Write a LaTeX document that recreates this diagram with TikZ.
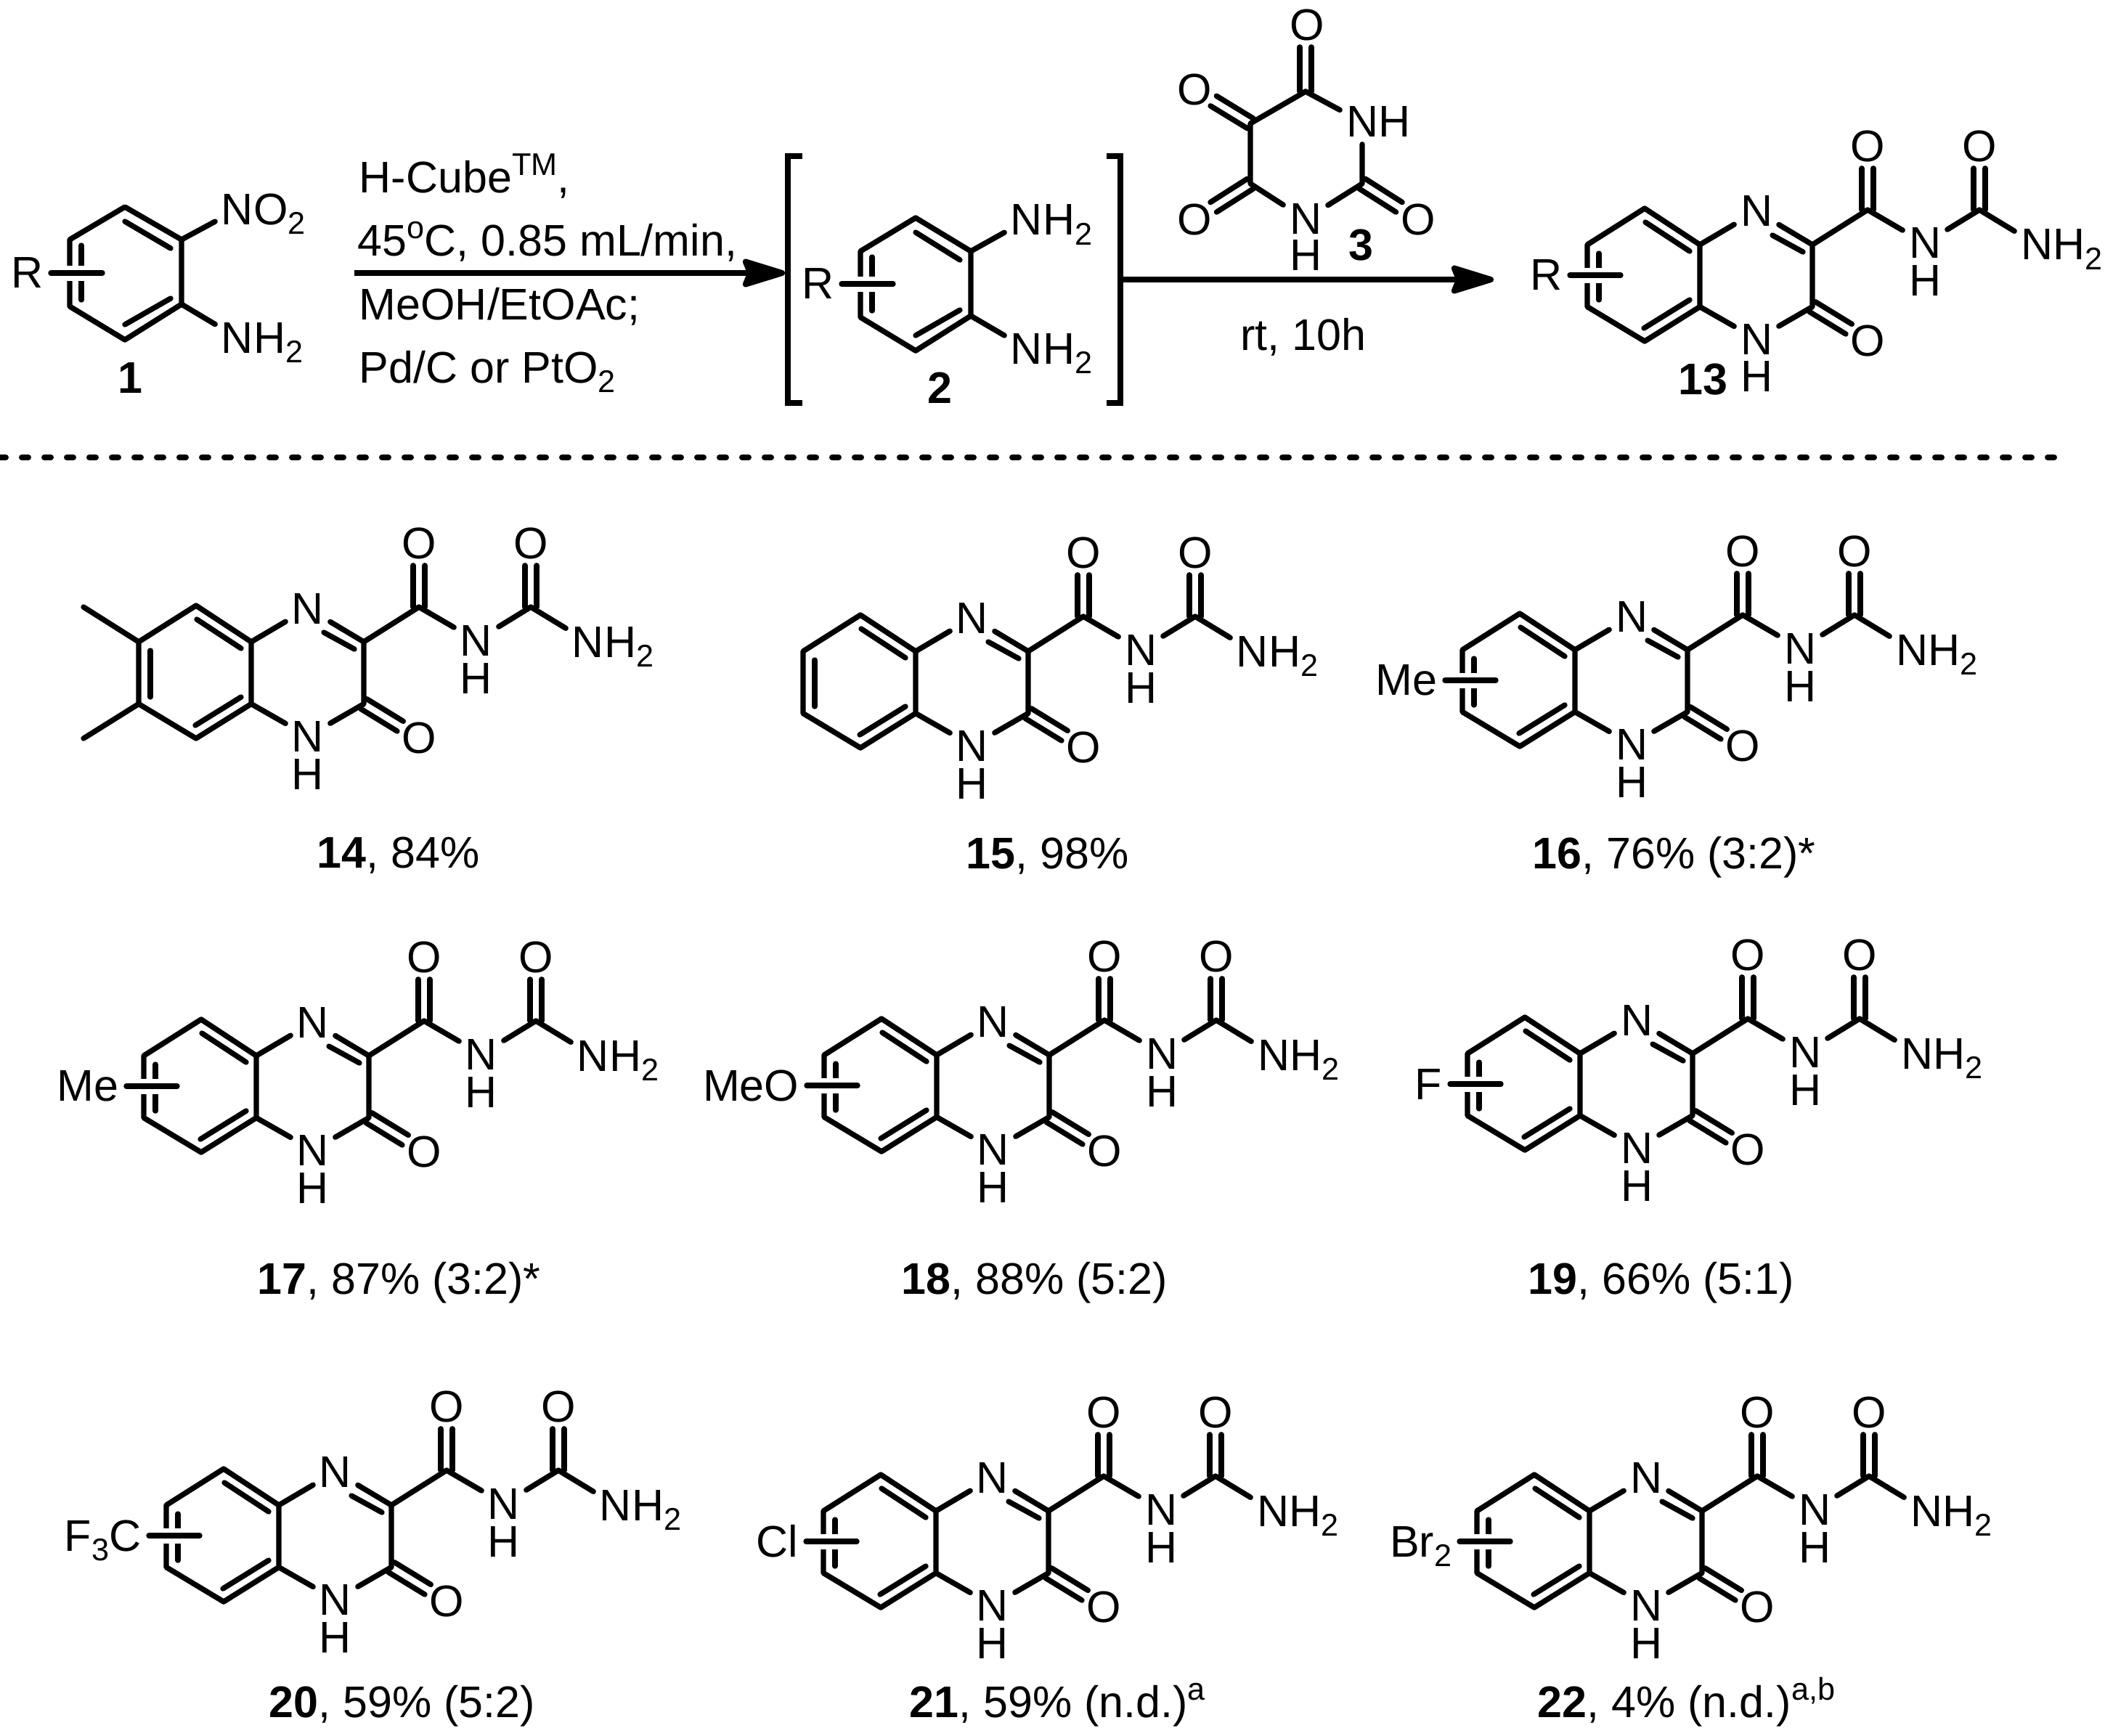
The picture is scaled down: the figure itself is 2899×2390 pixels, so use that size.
\documentclass[tikz,border=0pt]{standalone}
\usepackage{fontspec}
\setmainfont{Liberation Sans}
\usetikzlibrary{arrows.meta,calc}
\newcommand{\sbs}[1]{\smash{\raisebox{-3.3pt}{\fontsize{10.8}{12}\selectfont #1}}}
\newcommand{\sps}[1]{\smash{\raisebox{6pt}{\fontsize{10.8}{12}\selectfont #1}}}
\tikzset{
  x=0.25pt,y=-0.25pt,
  every node/.style={font=\fontsize{15.25}{18}\selectfont},
  bond/.style={line width=1.85pt,line cap=round,line join=round},
  atom/.style={inner sep=0pt,minimum width=15pt,minimum height=15pt},
  lab/.style={inner sep=2.5pt},
  txt/.style={inner sep=0pt,anchor=base west},
  halo/.style={white,line width=5.25pt},
  rxn/.style={line width=2pt,-{Stealth[length=17.5pt,width=10.5pt,inset=2pt,round]}},
  brk/.style={line width=2pt,line cap=butt,line join=miter},
}
% quinoxaline urea skeleton, origin = the top ring N
\newcommand{\qx}[3]{%
\begin{scope}[shift={(#2,#3)},name prefix=#1-]
  \coordinate (FT) at (-78,46);
  \coordinate (FB) at (-78,131.5);
  \coordinate (RT) at (-154,-4);
  \coordinate (RB) at (-154,179);
  \coordinate (LT) at (-233,46);
  \coordinate (LB) at (-233,131.5);
  \coordinate (C2) at (77,46);
  \coordinate (C3) at (77,131.5);
  \coordinate (CO) at (153,-2);
  \coordinate (CU) at (307,-2);
  \node[atom] (N1) at (0,0) {N};
  \node[atom] (N4) at (0,176) {N};
  \node[atom] (H4) at (0,228) {H};
  \node[atom] (O3) at (153,178) {O};
  \node[atom] (OA) at (153,-90) {O};
  \node[atom] (NH) at (232,44) {N};
  \node[atom] (HH) at (232,96) {H};
  \node[atom] (OB) at (307,-90) {O};
  \node[atom] (NT) at (386,46) {N\smash{\rlap{H\sbs{2}}}};
  \draw[bond] (FT)--(RT)--(LT)--(LB)--(RB)--(FB)--cycle;
  \draw[bond] (-153,15)--(-92,55);
  \draw[bond] (-92,122)--(-155,161);
  \draw[bond] (-217,58)--(-217,122);
  \draw[bond] (FT)--(N1);
  \draw[bond] (FB)--(N4);
  \draw[bond] (C2)--(N1);
  \draw[bond] (22,33)--(64,56);
  \draw[bond] (C2)--(C3)--(N4);
  \draw[bond] ($(C3)!2pt!90:(O3)$)--($(C3)!.66!(O3)!2pt!90:(O3)$);
  \draw[bond] ($(C3)!-2pt!90:(O3)$)--($(C3)!.66!(O3)!-2pt!90:(O3)$);
  \draw[bond] (C2)--(CO)--(NH);
  \draw[bond] (NH)--(CU)--(NT);
  \draw[bond] ([xshift=-2pt]CO)--([xshift=-2pt]OA.south);
  \draw[bond] ([xshift=2pt]CO)--([xshift=2pt]OA.south);
  \draw[bond] ([xshift=-2pt]CU)--([xshift=-2pt]OB.south);
  \draw[bond] ([xshift=2pt]CU)--([xshift=2pt]OB.south);
\end{scope}}
% substituent crossing the ring
\newcommand{\qxsub}[4]{%
\begin{scope}[shift={(#2,#3)},name prefix=#1-]
  \coordinate (barend) at (-187,88);
  \node[lab,anchor=east] (sub) at (-257,88) {#4};
  \coordinate (hs) at (-248,88);
  \coordinate (he) at (-202,88);
  \draw[halo] (hs)--(he);
  \draw[bond] (sub.east)--(barend);
\end{scope}}
\begin{document}
\begin{tikzpicture}
\useasboundingbox (0,0) rectangle (2899,2390);

% ---------- compound 1
\coordinate (a1) at (172,285); \coordinate (a2) at (250,330); \coordinate (a3) at (250,419);
\coordinate (a4) at (172,468); \coordinate (a5) at (96,422); \coordinate (a6) at (96,330);
\draw[bond] (a1)--(a2)--(a3)--(a4)--(a5)--(a6)--cycle;
\draw[bond] (172,305)--(235,342);
\draw[bond] (235,411)--(172,447);
\draw[bond] (112,338)--(112,413);
\node[atom] (no) at (327,288.5) {N\smash{\rlap{O\sbs{2}}}};
\node[atom] (nh) at (327,465) {N\smash{\rlap{H\sbs{2}}}};
\draw[bond] (a2)--(no);
\draw[bond] (a3)--(nh);
\node[lab,anchor=east] (r1) at (70,376) {R};
\coordinate (r1e) at (141,376);
\coordinate (r1a) at (80,376); \coordinate (r1b) at (128,376);
\draw[halo] (r1a)--(r1b);
\draw[bond] (r1.east)--(r1e);
\node[inner sep=0pt] (l1) at (179,521) {\textbf{1}};

% ---------- arrow 1 and conditions
\coordinate (ar1s) at (488,376); \coordinate (ar1e) at (1081,376);
\draw[rxn] (ar1s)--(ar1e);
\node[txt] (c1) at (494,265) {H-Cube\sps{TM},};
\node[txt] (c2) at (492,352) {45\sps{o}C, 0.85 mL/min,};
\node[txt] (c3) at (494,440) {MeOH/EtOAc;};
\node[txt] (c4) at (494,527) {Pd/C or PtO\sbs{2}};

% ---------- brackets
\coordinate (bl1) at (1105,215); \coordinate (bl2) at (1085,215); \coordinate (bl3) at (1085,555); \coordinate (bl4) at (1105,555);
\draw[brk] (bl1)--(bl2)--(bl3)--(bl4);
\coordinate (br1) at (1524,215); \coordinate (br2) at (1543,215); \coordinate (br3) at (1543,555); \coordinate (br4) at (1524,555);
\draw[brk] (br1)--(br2)--(br3)--(br4);

% ---------- compound 2
\coordinate (b1) at (1261,300); \coordinate (b2) at (1337,346); \coordinate (b3) at (1337,435);
\coordinate (b4) at (1261,483); \coordinate (b5) at (1185,437); \coordinate (b6) at (1185,346);
\draw[bond] (b1)--(b2)--(b3)--(b4)--(b5)--(b6)--cycle;
\draw[bond] (1261,320)--(1322,358);
\draw[bond] (1322,427)--(1261,462);
\draw[bond] (1201,354)--(1201,428);
\node[atom] (nb1) at (1414,303) {N\smash{\rlap{H\sbs{2}}}};
\node[atom] (nb2) at (1414,480) {N\smash{\rlap{H\sbs{2}}}};
\draw[bond] (b2)--(nb1);
\draw[bond] (b3)--(nb2);
\node[lab,anchor=east] (r2) at (1159,391) {R};
\coordinate (r2e) at (1230,391);
\coordinate (r2a) at (1168,391); \coordinate (r2b) at (1216,391);
\draw[halo] (r2a)--(r2b);
\draw[bond] (r2.east)--(r2e);
\node[inner sep=0pt] (l2) at (1294,534) {\textbf{2}};

% ---------- compound 3
\coordinate (t1) at (1798,126); \coordinate (t2) at (1722,170); \coordinate (t3) at (1722,253);
\coordinate (t5) at (1876,253);
\node[atom] (tO1) at (1800,34) {O};
\node[atom] (tO2) at (1645,123) {O};
\node[atom] (tO3) at (1645,302) {O};
\node[atom] (tO4) at (1953,302) {O};
\node[atom] (tN1) at (1876,168) {N\smash{\rlap{H}}};
\node[atom] (tN2) at (1798,302) {N};
\node[atom] (tH) at (1798,352) {H};
\node[inner sep=0pt] (l3) at (1874,338) {\textbf{3}};
\draw[bond] (t1)--(tN1);
\draw[bond] (t1)--(t2)--(t3)--(tN2)--(t5)--(tN1);
\draw[bond] ([xshift=-2pt]t1)--([xshift=-2pt]tO1.south-|t1);
\draw[bond] ([xshift=2pt]t1)--([xshift=2pt]tO1.south-|t1);
\draw[bond] ($(t2)!2pt!90:(tO2)$)--($(t2)!.66!(tO2)!2pt!90:(tO2)$);
\draw[bond] ($(t2)!-2pt!90:(tO2)$)--($(t2)!.66!(tO2)!-2pt!90:(tO2)$);
\draw[bond] ($(t3)!2pt!90:(tO3)$)--($(t3)!.66!(tO3)!2pt!90:(tO3)$);
\draw[bond] ($(t3)!-2pt!90:(tO3)$)--($(t3)!.66!(tO3)!-2pt!90:(tO3)$);
\draw[bond] ($(t5)!2pt!90:(tO4)$)--($(t5)!.66!(tO4)!2pt!90:(tO4)$);
\draw[bond] ($(t5)!-2pt!90:(tO4)$)--($(t5)!.66!(tO4)!-2pt!90:(tO4)$);

% ---------- arrow 2
\coordinate (ar2e) at (2057,385);
\draw[rxn] (br2|-ar2e)--(ar2e);
\node[inner sep=0pt] (c5) at (1795,464) {rt, 10h};

% ---------- compound 13
\qx{m13}{2419}{291}
\qxsub{m13}{2419}{291}{R}
\node[txt] (l13) at (2311,543) {\textbf{13}};

% ---------- dashed separator
\coordinate (d1) at (-1,630); \coordinate (d2) at (2845,630);
\draw[line width=2pt,line cap=round,dash pattern=on 2.25pt off 5.5pt] (d1)--(d2);

% ---------- row 1
\qx{m14}{424}{838}
\coordinate (me1) at (115,836); \coordinate (me2) at (115,1017);
\draw[bond] (m14-LT)--(me1);
\draw[bond] (m14-LB)--(me2);
\node[txt] (l14) at (436,1195) {\textbf{14}, 84\%};

\qx{m15}{1339}{851}
\node[txt] (l15) at (1330,1196) {\textbf{15}, 98\%};

\qx{m16}{2247}{849}
\qxsub{m16}{2247}{849}{Me}
\node[txt] (l16) at (2110,1196) {\textbf{16}, 76\% (3:2)*};

% ---------- row 2
\qx{m17}{431}{1408}
\qxsub{m17}{431}{1408}{Me}
\node[txt] (l17) at (354,1782) {\textbf{17}, 87\% (3:2)*};

\qx{m18}{1368}{1407}
\qxsub{m18}{1368}{1407}{MeO}
\node[txt] (l18) at (1241,1782) {\textbf{18}, 88\% (5:2)};

\qx{m19}{2254}{1405}
\qxsub{m19}{2254}{1405}{F}
\node[txt] (l19) at (2104,1782) {\textbf{19}, 66\% (5:1)};

% ---------- row 3
\qx{m20}{462}{2027}
\qxsub{m20}{462}{2027}{F\sbs{3}C}
\node[txt] (l20) at (370,2365) {\textbf{20}, 59\% (5:2)};

\qx{m21}{1367}{2035}
\qxsub{m21}{1367}{2035}{Cl}
\node[txt] (l21) at (1252,2365) {\textbf{21}, 59\% (n.d.)\sps{a}};

\qx{m22}{2267}{2035}
\qxsub{m22}{2267}{2035}{Br\sbs{2}}
\node[txt] (l22) at (2117,2365) {\textbf{22}, 4\% (n.d.)\sps{a,b}};
\end{tikzpicture}
\end{document}
